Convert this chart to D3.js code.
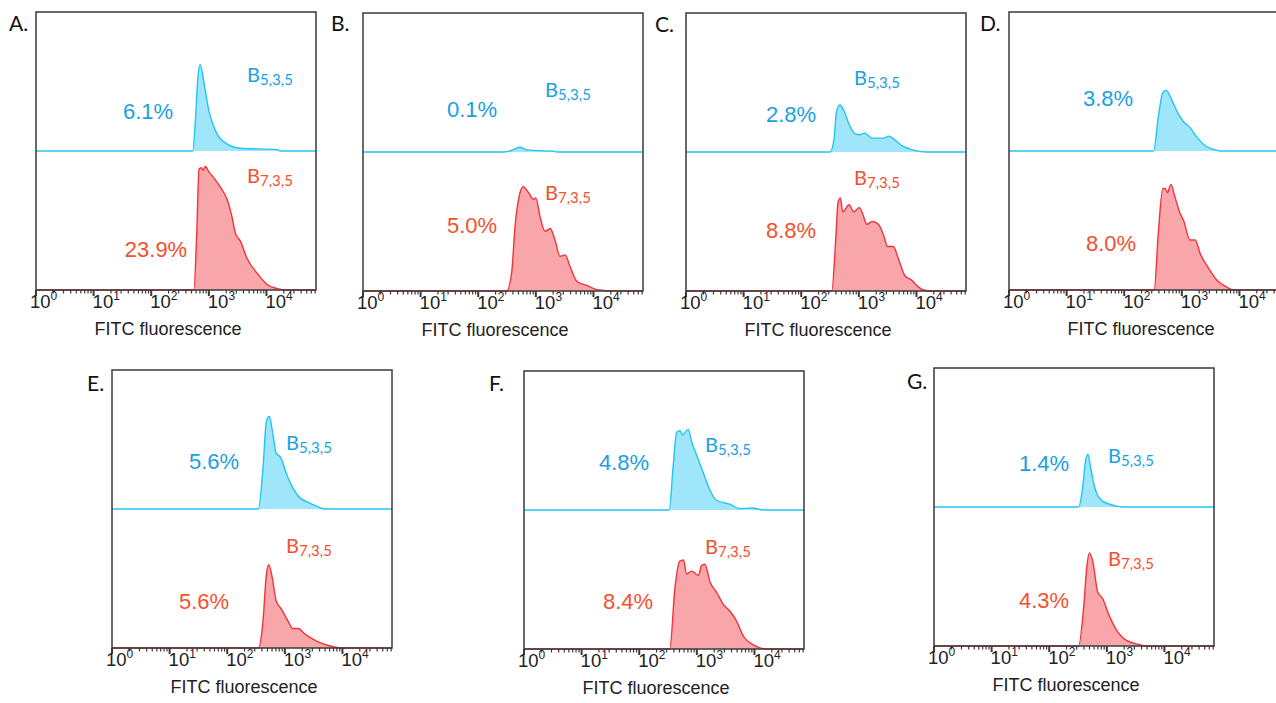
<!DOCTYPE html>
<html>
<head>
<meta charset="utf-8">
<script src="https://cdn.jsdelivr.net/npm/d3@7"></script>
<style>
  body { margin: 0; background: #fff; }
  svg { display: block; }
</style>
</head>
<body>
<div id="chart"></div>
<script>
// histogram data: [log10 FITC fluorescence, count as % of half-panel height]
const blueA = [[2.72,0],[2.77,24],[2.81,53],[2.85,62],[2.92,48],[3.0,29],[3.11,15],[3.32,5],[3.55,2],[4.19,1],[4.24,0]];
const redA = [[2.74,0],[2.79,41],[2.83,87],[2.87,88],[2.90,86],[2.94,89],[3.0,85],[3.08,81],[3.2,74],[3.32,65],[3.40,53],[3.46,41],[3.55,35],[3.66,23],[3.84,12],[4.01,4],[4.19,1],[4.36,0]];
const blueB = [[2.46,0],[2.6,1.5],[2.72,3.4],[2.85,1.5],[3.3,0.5],[3.37,0]];
const redB = [[2.49,0],[2.58,13],[2.64,47],[2.71,68],[2.78,75],[2.87,71],[2.96,66],[3.0,67],[3.07,54],[3.16,43],[3.25,45],[3.33,37],[3.42,25],[3.51,26],[3.59,18],[3.71,7],[3.88,4],[4.06,1],[4.35,0]];
const blueC = [[2.50,0],[2.57,9.5],[2.61,28.6],[2.67,33.8],[2.74,29.8],[2.83,20],[2.94,13],[3.01,12.4],[3.10,13.6],[3.23,10],[3.43,10],[3.52,11.4],[3.6,9.5],[3.74,4.8],[3.97,1.2],[4.17,0]];
const redC = [[2.53,0],[2.60,38],[2.64,64],[2.68,67],[2.72,57],[2.83,62],[2.91,57],[3.01,60],[3.07,55],[3.14,48],[3.23,50],[3.34,48],[3.43,40],[3.50,32],[3.60,32],[3.68,24],[3.80,11],[3.91,8],[4.03,3],[4.14,0.5],[4.26,0]];
const blueD = [[2.51,0],[2.59,24],[2.67,42],[2.73,43.6],[2.80,39],[2.91,29],[3.03,21],[3.14,17],[3.26,10],[3.40,4],[3.61,0.5],[3.66,0]];
const redD = [[2.52,0],[2.59,40],[2.67,73],[2.71,73],[2.75,70],[2.81,76],[2.88,67],[2.97,55],[3.03,50],[3.14,36],[3.23,36],[3.32,26],[3.46,16],[3.61,7],[3.78,2],[3.90,0]];
const blueE = [[2.54,0],[2.62,29],[2.68,63],[2.73,66.5],[2.78,57],[2.85,40],[2.93,37],[3.03,25],[3.14,15],[3.26,8],[3.37,5.5],[3.55,2],[3.69,0]];
const redE = [[2.54,0],[2.62,19],[2.68,53],[2.72,60],[2.77,53],[2.85,34],[2.94,28],[3.06,19],[3.14,14],[3.23,14],[3.35,10],[3.55,5],[3.84,1],[3.98,0]];
const blueF = [[2.52,0],[2.59,32],[2.65,56],[2.71,57],[2.75,54],[2.85,58],[2.91,49],[3.0,39],[3.11,27],[3.23,14],[3.34,7],[3.58,4],[3.75,1],[3.95,1.4],[4.16,0]];
const redF = [[2.53,0],[2.62,44],[2.70,63],[2.77,64],[2.82,54],[2.91,56],[3.03,53],[3.08,60],[3.14,61],[3.23,48],[3.34,41],[3.46,32],[3.58,27],[3.69,20],[3.81,9],[3.98,3],[4.21,0]];
const blueG = [[2.51,0],[2.58,14],[2.63,33],[2.67,38],[2.72,28],[2.79,14],[2.90,5],[3.05,2],[3.28,0]];
const redG = [[2.51,0],[2.60,29],[2.65,56],[2.70,67],[2.76,60],[2.84,39],[2.93,34],[3.02,24],[3.16,12],[3.34,4],[3.57,1],[3.68,0]];

const panelNames = ["A.", "B.", "C.", "D.", "E.", "F.", "G."];
const bluePct = ["6.1%", "0.1%", "2.8%", "3.8%", "5.6%", "4.8%", "1.4%"];
const redPct = ["23.9%", "5.0%", "8.8%", "8.0%", "5.6%", "8.4%", "4.3%"];
const blueSeries = [blueA, blueB, blueC, blueD, blueE, blueF, blueG];
const redSeries = [redA, redB, redC, redD, redE, redF, redG];
const showSampleNames = [true, true, true, false, true, true, true];
const xMaxLog = 4.86;
const axisTitle = "FITC fluorescence";

// layout of each panel (box origin, label offsets relative to box)
const layout = [
  {x: 36,   y: 12,  lx: 9,   ly: 31,  bp: [112, 107], rp: [120, 245], bn: [211, 70], rn: [211, 171]},
  {x: 363,  y: 13,  lx: 331, ly: 31,  bp: [109, 104], rp: [109, 220], bn: [182, 84], rn: [182, 187]},
  {x: 686,  y: 13,  lx: 655, ly: 32,  bp: [105, 109], rp: [105, 225], bn: [168, 72], rn: [168, 172]},
  {x: 1009, y: 12,  lx: 980, ly: 31,  bp: [99, 94],   rp: [102, 239], bn: [0, 0],   rn: [0, 0]},
  {x: 112,  y: 370, lx: 87,  ly: 391, bp: [102, 99],  rp: [92, 239],  bn: [174, 80], rn: [174, 183]},
  {x: 524,  y: 371, lx: 489, ly: 391, bp: [100, 99],  rp: [104, 238], bn: [181, 81], rn: [181, 183]},
  {x: 934,  y: 368, lx: 907, ly: 389, bp: [110, 103], rp: [110, 240], bn: [174, 95], rn: [174, 198]}
];

const W = 1276, H = 703;
const pw = 280, ph = 278, half = ph / 2;

const blueLine = "#22c4f4", blueFill = "#9fe6fa", blueText = "#1a9fe2";
const redLine = "#f2333c", redFill = "#f8a6a9", redText = "#f4502e";
const frameColor = "#3a3a3a";

const svg = d3.select("#chart").append("svg")
    .attr("width", W)
    .attr("height", H);

const x = d3.scaleLog()
    .domain([1, Math.pow(10, xMaxLog)])
    .range([0, pw]);

const yTop = d3.scaleLinear().domain([0, 100]).range([half, 0]);
const yBot = d3.scaleLinear().domain([0, 100]).range([ph, half]);

function fullRange(data) {
    // pad the histogram with zero counts out to the axis ends
    return [[0, 0]].concat(data, [[xMaxLog, 0]]);
}

function sampleName(g, pos, num, color) {
    const t = g.append("text")
        .attr("x", pos[0])
        .attr("y", pos[1])
        .attr("fill", color)
        .style("font-family", "Lato, 'Open Sans', sans-serif")
        .style("font-size", "20px");
    t.append("tspan").text("B");
    t.append("tspan")
        .attr("dy", 3)
        .style("font-size", "15px")
        .text(num);
}

layout.forEach((L, i) => {
    const g = svg.append("g").attr("transform", `translate(${L.x},${L.y})`);

    const areaTop = d3.area()
        .x(d => x(Math.pow(10, d[0])))
        .y0(yTop(0))
        .y1(d => yTop(d[1]))
        .curve(d3.curveMonotoneX);
    const lineTop = d3.line()
        .x(d => x(Math.pow(10, d[0])))
        .y(d => yTop(d[1]))
        .curve(d3.curveMonotoneX);
    const areaBot = d3.area()
        .x(d => x(Math.pow(10, d[0])))
        .y0(yBot(0))
        .y1(d => yBot(d[1]))
        .curve(d3.curveMonotoneX);
    const lineBot = d3.line()
        .x(d => x(Math.pow(10, d[0])))
        .y(d => yBot(d[1]))
        .curve(d3.curveMonotoneX);

    // red (lower) histogram
    g.append("path")
        .datum(fullRange(redSeries[i]))
        .attr("d", areaBot)
        .attr("fill", redFill);
    g.append("path")
        .datum(fullRange(redSeries[i]))
        .attr("d", lineBot)
        .attr("fill", "none")
        .attr("stroke", redLine)
        .attr("stroke-width", 1.4);

    // blue (upper) histogram
    g.append("path")
        .datum(fullRange(blueSeries[i]))
        .attr("d", areaTop)
        .attr("fill", blueFill);
    g.append("path")
        .datum(fullRange(blueSeries[i]))
        .attr("d", lineTop)
        .attr("fill", "none")
        .attr("stroke", blueLine)
        .attr("stroke-width", 1.4);

    // frame
    g.append("rect")
        .attr("width", pw)
        .attr("height", ph)
        .attr("fill", "none")
        .attr("stroke", frameColor)
        .attr("stroke-width", 1.5);

    // log axis ticks
    const ticks = x.ticks();
    g.selectAll(".tick")
        .data(ticks)
      .enter().append("line")
        .attr("x1", d => x(d))
        .attr("x2", d => x(d))
        .attr("y1", ph)
        .attr("y2", d => Number.isInteger(Math.log10(d)) ? ph + 6 : ph + 3.5)
        .attr("stroke", frameColor)
        .attr("stroke-width", d => Number.isInteger(Math.log10(d)) ? 2 : 1.2);

    const majors = ticks.filter(d => Number.isInteger(Math.log10(d)));
    majors.forEach(d => {
        const t = g.append("text")
            .attr("x", x(d) + (d === 1 ? -6 : -1))
            .attr("y", ph + 18)
            .attr("fill", "#222")
            .style("font-family", "'Liberation Sans', Arial, sans-serif")
            .style("font-size", "18.5px");
        t.append("tspan").text("10");
        t.append("tspan")
            .attr("dy", -8)
            .style("font-size", "12px")
            .text(Math.round(Math.log10(d)));
    });

    g.append("text")
        .attr("x", 132)
        .attr("y", ph + 45)
        .attr("text-anchor", "middle")
        .attr("fill", "#222")
        .style("font-family", "'Liberation Sans', Arial, sans-serif")
        .style("font-size", "18px")
        .text(axisTitle);

    // percentages
    g.append("text")
        .attr("x", L.bp[0]).attr("y", L.bp[1])
        .attr("text-anchor", "middle")
        .attr("fill", blueText)
        .style("font-family", "'Liberation Sans', Arial, sans-serif")
        .style("font-size", "22px")
        .text(bluePct[i]);
    g.append("text")
        .attr("x", L.rp[0]).attr("y", L.rp[1])
        .attr("text-anchor", "middle")
        .attr("fill", redText)
        .style("font-family", "'Liberation Sans', Arial, sans-serif")
        .style("font-size", "22px")
        .text(redPct[i]);

    if (showSampleNames[i]) {
        sampleName(g, L.bn, "5,3,5", blueText);
        sampleName(g, L.rn, "7,3,5", redText);
    }

    // panel letter
    svg.append("text")
        .attr("x", L.lx)
        .attr("y", L.ly)
        .attr("fill", "#111")
        .style("font-family", "Lato, 'Open Sans', sans-serif")
        .style("font-size", "21px")
        .text(panelNames[i]);
});
</script>
</body>
</html>
